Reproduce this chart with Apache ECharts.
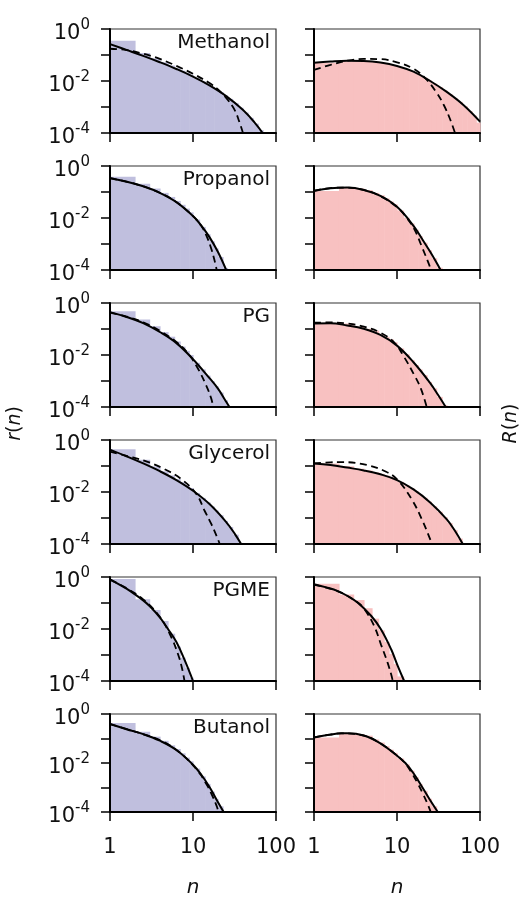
<!DOCTYPE html>
<html><head><meta charset="utf-8">
<script src="https://cdn.jsdelivr.net/npm/echarts@6/dist/echarts.min.js"></script>
<style>html,body{margin:0;padding:0;background:#fff}#c{width:525px;height:899px}</style>
</head><body><div id="c"></div><script>
// ---------- data ----------
const solventNames = ['Methanol','Propanol','PG','Glycerol','PGME','Butanol'];
const yLabelExponents = [0, -2, -4];
const binEdges = [1,2,3,4,5,6,7,8,9,10,12,14,16,18,20,23,26,30,35,40,46,53,61,70,80,90,100];

const methanol_r_hist = [0.356,0.12,0.0748,0.0525,0.0395,0.031,0.025,0.0207,0.0174,0.0128,0.0097,0.00754,0.00598,0.00481,0.00375,0.00279,0.00205,0.0014,0.00094,0.000615,0.000383,0.000229,0.000129];
const methanol_r_solid = [[1,0.263],[1.58,0.157],[2.51,0.0925],[3.98,0.0528],[6.31,0.0289],[10,0.0148],[15.8,0.0068],[25.1,0.00263],[39.8,0.00078],[55,0.000258],[69,0.0001]];
const methanol_r_dash = [[1,0.174],[1.58,0.155],[2.51,0.112],[3.98,0.0708],[6.31,0.038],[10,0.019],[15.8,0.0083],[20,0.0047],[25.1,0.00224],[31.6,0.00079],[36,0.00028],[40,0.0001]];
const methanol_R_hist = [0.050,0.058,0.0597,0.0589,0.055,0.052,0.0479,0.044,0.0407,0.0344,0.0286,0.0244,0.0202,0.0166,0.0134,0.0105,0.008,0.0059,0.00434,0.00316,0.00221,0.00157,0.00107,0.0007,0.00047,0.00025];
const methanol_R_solid = [[1,0.0501],[1.58,0.0562],[2.51,0.0603],[3.98,0.0589],[6.31,0.0513],[10,0.038],[15.8,0.0229],[25.1,0.01],[39.8,0.0038],[63.1,0.0012],[100,0.000275]];
const methanol_R_dash = [[1,0.0269],[1.58,0.0417],[2.51,0.0603],[3.98,0.0708],[6.31,0.0692],[10,0.0525],[15.8,0.0295],[22,0.0126],[30,0.00355],[37,0.00112],[44,0.000316],[50,0.0001]];

const propanol_r_hist = [0.39,0.206,0.136,0.0927,0.0645,0.0454,0.0322,0.023,0.0165,0.0087,0.00454,0.00239,0.00127,0.00068,0.000316,0.00012];
const propanol_r_solid = [[1,0.339],[1.58,0.25],[2.51,0.1656],[3.98,0.0933],[6.31,0.0408],[10,0.01186],[12.6,0.0051],[15.8,0.001837],[20,0.00049],[25.1,0.0001]];
const propanol_r_dash = [[1,0.339],[2,0.206],[3.98,0.0933],[6.31,0.0408],[10,0.0118],[12.6,0.0049],[14.5,0.0021],[16.6,0.00066],[18.2,0.00023],[19.3,0.0001]];
const propanol_R_hist = [0.11,0.143,0.136,0.119,0.0925,0.075,0.0569,0.043,0.0337,0.0194,0.0102,0.0062,0.00355,0.00204,0.00112,0.00057,0.00028,0.000123];
const propanol_R_solid = [[1,0.11],[1.58,0.138],[2.51,0.148],[3.98,0.12],[6.31,0.0708],[10,0.0269],[15.8,0.005],[20,0.00158],[25.1,0.0005],[30,0.00019],[33.5,0.0001]];
const propanol_R_dash = [[1,0.112],[1.58,0.141],[2.51,0.148],[3.98,0.12],[6.31,0.0692],[10,0.0263],[12.8,0.0112],[16.1,0.0038],[20.3,0.00068],[24.5,0.000155],[25.7,0.0001]];

const pg_r_hist = [0.48,0.234,0.128,0.0759,0.0506,0.0331,0.0211,0.0144,0.01,0.005,0.00279,0.00162,0.00098,0.00063,0.00036,0.00018];
const pg_r_solid = [[1,0.447],[1.58,0.291],[2.51,0.168],[3.98,0.0766],[6.31,0.0286],[10,0.0069],[15.8,0.00129],[20,0.00051],[25.1,0.000158],[27.5,0.0001]];
const pg_r_dash = [[1,0.427],[1.58,0.302],[2.51,0.182],[3.98,0.0851],[6.31,0.0316],[8.7,0.0117],[11.5,0.00295],[14.4,0.00068],[16.6,0.00021],[17.5,0.0001]];
const pg_R_hist = [0.162,0.162,0.122,0.1016,0.0863,0.064,0.0498,0.0398,0.0309,0.0178,0.0106,0.00646,0.00411,0.00279,0.00168,0.00092,0.00052,0.000245,0.000117];
const pg_R_solid = [[1,0.162],[1.58,0.166],[2.51,0.137],[3.98,0.102],[6.31,0.0589],[10,0.0229],[15.8,0.00525],[25.1,0.00083],[31.6,0.000275],[38.6,0.0001]];
const pg_R_dash = [[1,0.174],[1.58,0.178],[2.51,0.162],[3.98,0.123],[6.31,0.0724],[9.3,0.0302],[12.2,0.0083],[16.2,0.00166],[19.4,0.00051],[22.8,0.0001]];

const glycerol_r_hist = [0.44,0.174,0.0974,0.0627,0.0434,0.0315,0.0236,0.0181,0.0141,0.00903,0.00593,0.004,0.00276,0.00194,0.00128,0.00077,0.00045,0.000228,0.00011];
const glycerol_r_solid = [[1,0.427],[1.58,0.237],[2.51,0.126],[3.98,0.0631],[6.31,0.0287],[10,0.01115],[15.8,0.00343],[25.1,0.0007],[31.6,0.000257],[38,0.0001]];
const glycerol_r_dash = [[1,0.355],[1.58,0.245],[2.63,0.158],[4.4,0.0794],[7.2,0.0316],[11,0.0083],[13.8,0.0019],[16.6,0.00059],[19,0.000224],[21,0.0001]];
const glycerol_R_hist = [0.126,0.0977,0.079,0.0676,0.057,0.0497,0.0427,0.0369,0.0324,0.0245,0.0181,0.014,0.0106,0.008,0.006,0.00425,0.00282,0.00175,0.00109,0.00064,0.00034,0.000162];
const glycerol_R_solid = [[1,0.126],[1.58,0.11],[2.51,0.087],[3.98,0.0676],[6.31,0.0479],[10,0.0288],[15.8,0.0126],[25.1,0.00398],[39.8,0.00089],[50.1,0.000316],[62,0.0001]];
const glycerol_R_dash = [[1,0.126],[1.58,0.138],[2.2,0.141],[4.3,0.11],[7.4,0.0603],[10.2,0.0288],[15.1,0.00513],[20,0.00087],[25.2,0.000148],[26.3,0.0001]];

const pgme_r_hist = [0.83,0.138,0.054,0.0203,0.0066,0.0021,0.00079,0.00032,0.000135];
const pgme_r_solid = [[1,0.813],[1.58,0.355],[2,0.214],[2.51,0.126],[3.02,0.0741],[3.98,0.0282],[5,0.01],[6.31,0.00316],[7.94,0.00063],[10,0.0001]];
const pgme_r_dash = [[1,0.794],[1.58,0.372],[2.51,0.138],[3.98,0.0295],[5.5,0.00468],[6.6,0.00107],[7.3,0.000355],[7.9,0.0001]];
const pgme_R_hist = [0.55,0.21,0.13,0.063,0.025,0.0089,0.0032,0.0011,0.00045,0.00015];
const pgme_R_solid = [[1,0.525],[1.41,0.398],[1.94,0.288],[2.51,0.19],[3.37,0.102],[4.9,0.0316],[6.4,0.0098],[8.5,0.00166],[10.2,0.00038],[12.2,0.0001]];
const pgme_R_dash = [[1,0.501],[1.94,0.282],[3.37,0.105],[4.06,0.0575],[5.3,0.0132],[6.4,0.00257],[7.7,0.00051],[8.5,0.00018],[8.9,0.0001]];

const butanol_r_hist = [0.426,0.19,0.119,0.0805,0.0527,0.0373,0.0248,0.0166,0.0117,0.0059,0.00285,0.0014,0.00068,0.000344,0.00017];
const butanol_r_solid = [[1,0.389],[1.58,0.24],[2.51,0.151],[3.98,0.0813],[6.31,0.0339],[10,0.0085],[12.6,0.00331],[15.8,0.00105],[20,0.00025],[23.4,0.0001]];
const butanol_r_dash = [[1,0.389],[2,0.19],[4.2,0.0794],[7.2,0.024],[11.5,0.00457],[14.6,0.00132],[17,0.00048],[19.3,0.000174],[20.3,0.0001]];
const butanol_R_hist = [0.11,0.158,0.15,0.131,0.0912,0.0684,0.0487,0.0349,0.026,0.0152,0.0088,0.00484,0.0026,0.00141,0.00073,0.000347,0.00017];
const butanol_R_solid = [[1,0.11],[1.58,0.145],[2.13,0.162],[2.51,0.162],[3.98,0.132],[6.31,0.063],[10,0.02],[12.6,0.01],[15.8,0.0038],[20,0.00107],[25.1,0.0003],[31,0.0001]];
const butanol_R_dash = [[1,0.112],[1.58,0.145],[2.13,0.162],[3.98,0.132],[6.31,0.063],[10,0.02],[12.6,0.0095],[15,0.004],[17.7,0.0015],[20.5,0.00056],[23,0.00024],[25.5,0.0001]];

const rows = [
  {r:[methanol_r_hist,methanol_r_solid,methanol_r_dash], R:[methanol_R_hist,methanol_R_solid,methanol_R_dash]},
  {r:[propanol_r_hist,propanol_r_solid,propanol_r_dash], R:[propanol_R_hist,propanol_R_solid,propanol_R_dash]},
  {r:[pg_r_hist,pg_r_solid,pg_r_dash], R:[pg_R_hist,pg_R_solid,pg_R_dash]},
  {r:[glycerol_r_hist,glycerol_r_solid,glycerol_r_dash], R:[glycerol_R_hist,glycerol_R_solid,glycerol_R_dash]},
  {r:[pgme_r_hist,pgme_r_solid,pgme_r_dash], R:[pgme_R_hist,pgme_R_solid,pgme_R_dash]},
  {r:[butanol_r_hist,butanol_r_solid,butanol_r_dash], R:[butanol_R_hist,butanol_R_solid,butanol_R_dash]}
];

// ---------- layout / style ----------
const FONT = 'DejaVu Sans';
const colLeft = [110, 314];
const panelW = 166, panelH = 104, rowTop0 = 29, rowStep = 137;
const fillColors = ['#c0bfde', '#f8c1c1'];
const Y_MIN = 1e-4, Y_MAX = 1;

const grids = [], xAxes = [], yAxes = [], series = [], titles = [];

rows.forEach((row, i) => {
  const top = rowTop0 + i * rowStep;
  titles.push({text: solventNames[i], right: 255, top: top + 4, padding: 0,
    textStyle: {fontSize: 20, fontWeight: 'normal', fontFamily: FONT, color: '#111'}});
  [row.r, row.R].forEach((set, j) => {
    const k = i * 2 + j;
    const bottomRow = i === rows.length - 1;
    grids.push({left: colLeft[j], top: top, width: panelW, height: panelH,
      show: true, borderColor: '#333', borderWidth: 1.2, backgroundColor: 'transparent'});
    xAxes.push({gridIndex: k, type: 'log', logBase: 10, min: 1, max: 100, splitNumber: 2, z: 5,
      position: 'bottom',
      axisLine: {show: true, onZero: false, lineStyle: {color: '#000', width: 2}},
      axisTick: {show: true, inside: false, length: 9, lineStyle: {color: '#000', width: 1.5}},
      splitLine: {show: false}, minorTick: {show: false},
      axisLabel: {show: bottomRow, margin: 25, fontSize: 21, fontFamily: FONT, color: '#111',
        showMinLabel: true, showMaxLabel: true},
      name: bottomRow ? 'n' : '', nameLocation: 'middle', nameGap: 66,
      nameTextStyle: {fontSize: 20, fontStyle: 'italic', fontFamily: FONT, color: '#111'}
    });
    yAxes.push({gridIndex: k, type: 'log', logBase: 10, min: Y_MIN, max: Y_MAX, splitNumber: 4, z: 5,
      position: 'left',
      axisLine: {show: true, onZero: false, lineStyle: {color: '#000', width: 2}},
      axisTick: {show: true, inside: false, length: 9, lineStyle: {color: '#000', width: 1.5}},
      splitLine: {show: false}, minorTick: {show: false},
      axisLabel: {show: j === 0, margin: 20, showMinLabel: true, showMaxLabel: true,
        formatter: v => {
          const e = Math.round(Math.log10(v));
          return yLabelExponents.indexOf(e) >= 0 ? '{b|10}{s|' + e + '}' : '';
        },
        rich: {
          b: {fontSize: 21, fontFamily: FONT, color: '#111', padding: [10, 0, 0, 0], verticalAlign: 'bottom'},
          s: {fontSize: 15, fontFamily: FONT, color: '#111', padding: [4, 0, 0, 0], verticalAlign: 'top'}
        }
      }
    });
    const [hist, solid, dash] = set;
    const color = fillColors[j];
    series.push({
      type: 'custom', xAxisIndex: k, yAxisIndex: k, silent: true, z: 1,
      data: hist.map((h, b) => [binEdges[b], binEdges[b + 1], h]),
      encode: {x: [0, 1], y: 2},
      renderItem: (params, api) => {
        const p0 = api.coord([api.value(0), api.value(2)]);
        const p1 = api.coord([api.value(1), Y_MIN]);
        return {type: 'rect', shape: {x: p0[0], y: p0[1], width: p1[0] - p0[0] + 0.6, height: p1[1] - p0[1]},
          style: {fill: color}};
      }
    });
    series.push({type: 'line', xAxisIndex: k, yAxisIndex: k, data: dash, symbol: 'none', showSymbol: false,
      smooth: 0.4, silent: true, z: 3, lineStyle: {color: '#000', width: 1.8, type: [7, 4.5]}});
    series.push({type: 'line', xAxisIndex: k, yAxisIndex: k, data: solid, symbol: 'none', showSymbol: false,
      smooth: 0.4, silent: true, z: 4, lineStyle: {color: '#000', width: 2}});
  });
});

const midY = rowTop0 + (rows.length - 1) * rowStep / 2 + panelH / 2;
const axisNameRich = {i: {fontStyle: 'italic', fontSize: 19, fontFamily: FONT, fill: '#111'}};
const chart = echarts.init(document.getElementById('c'), null, {renderer: 'canvas'});
chart.setOption({
  animation: false,
  backgroundColor: '#fff',
  title: titles,
  grid: grids, xAxis: xAxes, yAxis: yAxes, series: series,
  graphic: [
    {type: 'text', x: 15, y: midY, rotation: Math.PI / 2,
      style: {text: '{i|r}({i|n})', rich: axisNameRich, fontSize: 19, fontFamily: FONT, fill: '#111',
        align: 'center', verticalAlign: 'middle', textAlign: 'center', textVerticalAlign: 'middle'}},
    {type: 'text', x: 511, y: midY, rotation: Math.PI / 2,
      style: {text: '{i|R}({i|n})', rich: axisNameRich, fontSize: 19, fontFamily: FONT, fill: '#111',
        align: 'center', verticalAlign: 'middle', textAlign: 'center', textVerticalAlign: 'middle'}}
  ]
});
</script></body></html>
